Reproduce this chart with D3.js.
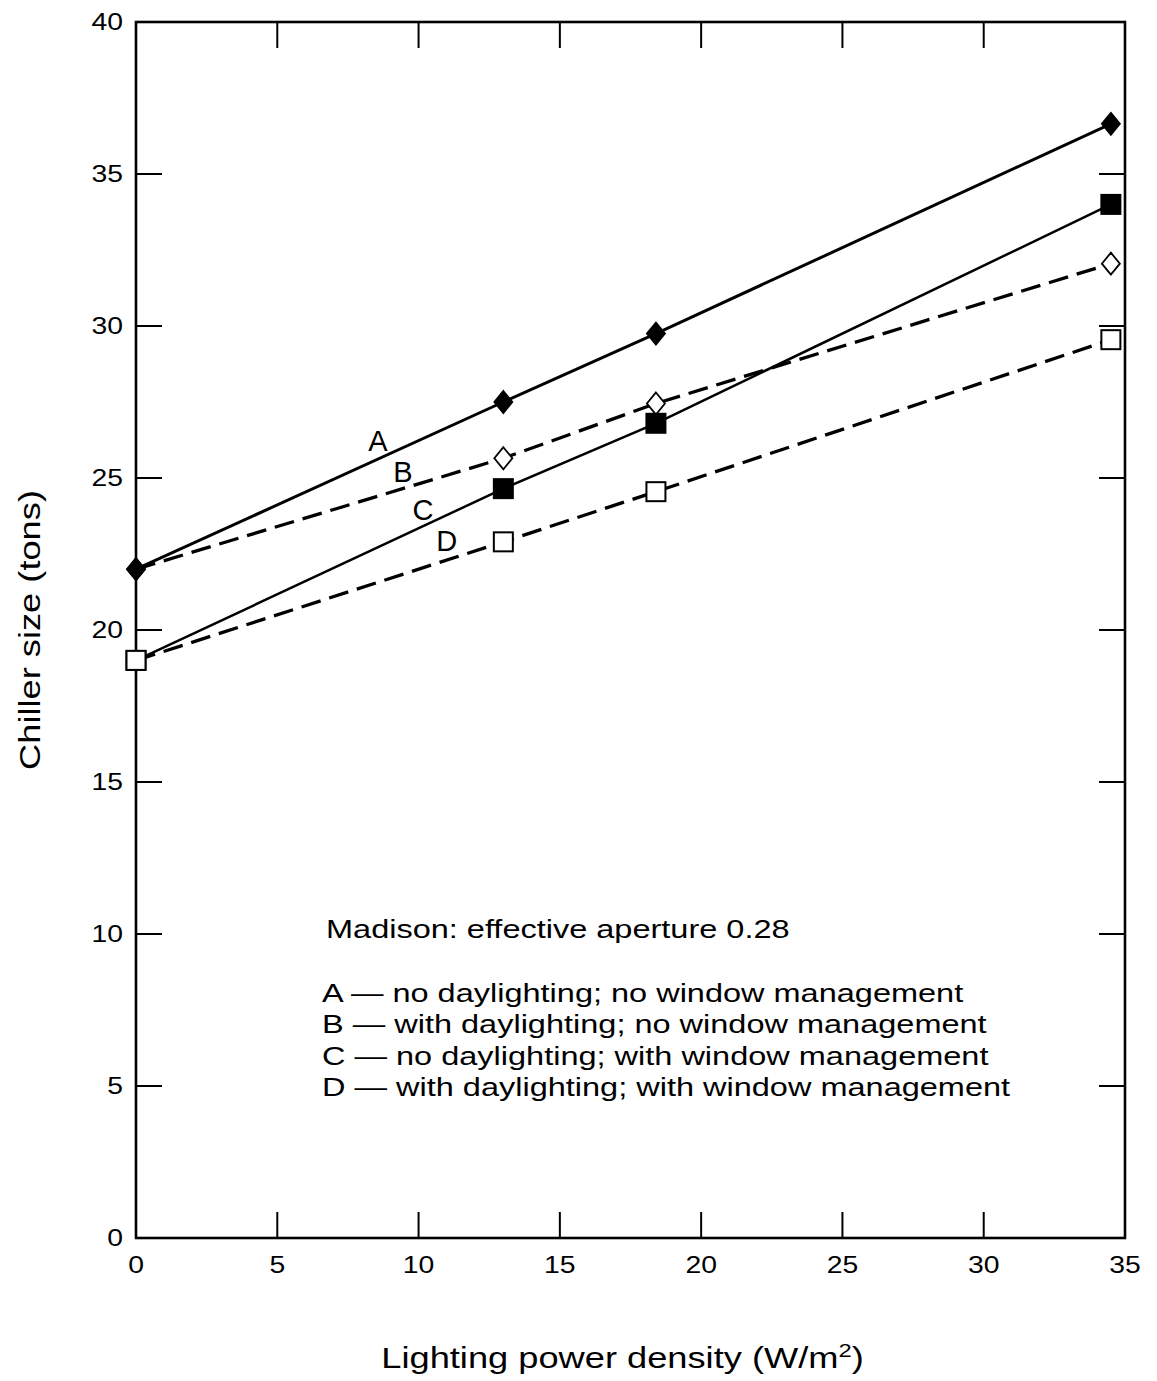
<!DOCTYPE html>
<html>
<head>
<meta charset="utf-8">
<script src="https://cdn.jsdelivr.net/npm/d3@7"></script>
<style>
  body { margin: 0; background: #fff; }
  svg { display: block; font-family: "Liberation Sans", Arial, sans-serif; }
</style>
</head>
<body>
<div class="container"></div>
<script>
const w = 1157;
const h = 1381;

const margin = { top: 22, right: 32, bottom: 143, left: 136 };

// data
const xValues = [0, 13.0, 18.4, 34.5];
const seriesA = [22.0, 27.5, 29.75, 36.65];
const seriesB = [22.0, 25.65, 27.45, 32.05];
const seriesC = [19.0, 24.65, 26.8, 34.0];
const seriesD = [19.0, 22.9, 24.55, 29.55];

const xTicks = [0, 5, 10, 15, 20, 25, 30, 35];
const yTicks = [0, 5, 10, 15, 20, 25, 30, 35, 40];

const series = [
    { key: 'A', values: seriesA, dash: null, width: 3, marker: 'diamond', fill: '#000' },
    { key: 'B', values: seriesB, dash: '20,9', width: 3.3, marker: 'diamond', fill: '#fff' },
    { key: 'C', values: seriesC, dash: null, width: 2.5, marker: 'square', fill: '#000' },
    { key: 'D', values: seriesD, dash: '20,9', width: 3.3, marker: 'square', fill: '#fff' }
];

// letters placed next to the lines (data units)
const labelPos = [
    { key: 'A', x: 8.56, y: 25.9 },
    { key: 'B', x: 9.45, y: 24.87 },
    { key: 'C', x: 10.16, y: 23.62 },
    { key: 'D', x: 11.0, y: 22.6 }
];

const legendTitle = 'Madison: effective aperture 0.28';
const legendLines = [
    'A \u2014 no daylighting; no window management',
    'B \u2014 with daylighting; no window management',
    'C \u2014 no daylighting; with window management',
    'D \u2014 with daylighting; with window management'
];

const stretch = 1.25; // the original type is set wide

const svg = d3.select('.container')
    .append('svg')
    .attr('width', w)
    .attr('height', h);

const x = d3.scaleLinear().domain([0, 35]).range([margin.left, w - margin.right]);
const y = d3.scaleLinear().domain([0, 40]).range([h - margin.bottom, margin.top]);

const tickLen = 26;

// inward ticks on all four sides
const ticks = svg.append('g').attr('stroke', '#000').attr('stroke-width', 2);
xTicks.slice(1, -1).forEach(t => {
    ticks.append('line').attr('x1', x(t)).attr('x2', x(t)).attr('y1', y(0)).attr('y2', y(0) - tickLen);
    ticks.append('line').attr('x1', x(t)).attr('x2', x(t)).attr('y1', y(40)).attr('y2', y(40) + tickLen);
});
yTicks.slice(1, -1).forEach(t => {
    ticks.append('line').attr('x1', x(0)).attr('x2', x(0) + tickLen).attr('y1', y(t)).attr('y2', y(t));
    ticks.append('line').attr('x1', x(35)).attr('x2', x(35) - tickLen).attr('y1', y(t)).attr('y2', y(t));
});

// frame
svg.append('rect')
    .attr('x', x(0))
    .attr('y', y(40))
    .attr('width', x(35) - x(0))
    .attr('height', y(0) - y(40))
    .attr('fill', 'none')
    .attr('stroke', '#000')
    .attr('stroke-width', 2.6);

// tick labels
svg.append('g')
    .selectAll('text')
    .data(xTicks)
    .join('text')
    .attr('transform', d => `translate(${x(d)}, ${y(0) + 35}) scale(1.18,1)`)
    .attr('text-anchor', 'middle')
    .style('font-size', '24px')
    .text(d => d);

svg.append('g')
    .selectAll('text')
    .data(yTicks)
    .join('text')
    .attr('transform', d => `translate(${x(0) - 13}, ${y(d) + 8}) scale(1.18,1)`)
    .attr('text-anchor', 'end')
    .style('font-size', '24px')
    .text(d => d);

// axis titles
svg.append('g')
    .attr('transform', `translate(40, ${(y(0) + y(40)) / 2}) rotate(-90) scale(${stretch},1)`)
    .append('text')
    .attr('text-anchor', 'middle')
    .style('font-size', '29px')
    .text('Chiller size (tons)');

const xTitle = svg.append('g')
    .attr('transform', `translate(${(x(0) + x(35)) / 2 - 8}, 1368) scale(${stretch},1)`)
    .append('text')
    .attr('text-anchor', 'middle')
    .style('font-size', '29px')
    .text('Lighting power density (W/m');
xTitle.append('tspan').attr('dy', -11).style('font-size', '19px').text('2');
xTitle.append('tspan').attr('dy', 11).text(')');

// lines
const line = d3.line()
    .x((d, i) => x(xValues[i]))
    .y(d => y(d));

series.forEach(s => {
    svg.append('path')
        .datum(s.values)
        .attr('fill', 'none')
        .attr('stroke', '#000')
        .attr('stroke-width', s.width)
        .attr('stroke-dasharray', s.dash)
        .attr('d', line);
});

// markers: B first so A's filled diamond sits on top at x = 0, D last
const markerOrder = ['B', 'A', 'C', 'D'];
markerOrder.forEach(k => {
    const s = series.find(d => d.key === k);
    const g = svg.append('g');
    s.values.forEach((v, i) => {
        const cx = x(xValues[i]);
        const cy = y(v);
        if (s.marker === 'diamond') {
            g.append('path')
                .attr('d', `M${cx},${cy - 11}L${cx + 9},${cy}L${cx},${cy + 11}L${cx - 9},${cy}Z`)
                .attr('fill', s.fill)
                .attr('stroke', '#000')
                .attr('stroke-width', 1.8);
        } else {
            g.append('rect')
                .attr('x', cx - 9.5)
                .attr('y', cy - 9.5)
                .attr('width', 19)
                .attr('height', 19)
                .attr('fill', s.fill)
                .attr('stroke', '#000')
                .attr('stroke-width', 2);
        }
    });
});

// series letters
svg.append('g')
    .selectAll('text')
    .data(labelPos)
    .join('text')
    .attr('x', d => x(d.x))
    .attr('y', d => y(d.y))
    .attr('text-anchor', 'middle')
    .style('font-size', '29px')
    .text(d => d.key);

// legend
const legend = svg.append('g')
    .attr('transform', `translate(326, 0) scale(${stretch},1)`);

legend.append('text')
    .attr('x', 0)
    .attr('y', 938)
    .style('font-size', '26px')
    .text(legendTitle);

legend.append('g')
    .selectAll('text')
    .data(legendLines)
    .join('text')
    .attr('x', -4 / stretch)
    .attr('y', (d, i) => 1002 + i * 31.4)
    .style('font-size', '26px')
    .text(d => d);
</script>
</body>
</html>
